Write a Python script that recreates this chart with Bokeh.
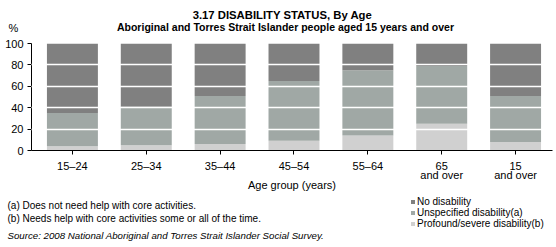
from bokeh.plotting import figure
from bokeh.models import Range1d, FixedTicker, Label, Legend, LegendItem, ColumnDataSource
from bokeh.layouts import column
from bokeh.embed import file_html
from bokeh.resources import INLINE

categories = ["15–24", "25–34", "35–44", "45–54", "55–64", "65\nand over", "15\nand over"]
profound = [4, 5, 6, 9, 14, 25, 8]
unspecified = [31, 36, 45, 56, 61, 54, 43]
no_disability = [65, 59, 49, 35, 25, 21, 49]
series_names = ["Profound/severe disability(b)", "Unspecified disability(a)", "No disability"]
colors = ["#d0d0d0", "#a0a8a5", "#808080"]
y_ticks = [0, 20, 40, 60, 80, 100]

FONT = "Liberation Sans"
W = 556


def blank(height):
    f = figure(width=W, height=height, output_backend="svg", toolbar_location=None,
               x_axis_type=None, y_axis_type=None, min_border=0, frame_align=False,
               x_range=Range1d(0, 1), y_range=Range1d(0, 1))
    f.outline_line_color = None
    f.xgrid.grid_line_color = None
    f.ygrid.grid_line_color = None
    return f


def lab(f, text, x, y, size="11px", style="normal", align="left"):
    f.add_layout(Label(x=x, y=y, x_units="screen", y_units="screen", text=text,
                       text_font=FONT, text_font_size=size, text_font_style=style,
                       text_align=align, text_baseline="middle", text_color="black"))


# ---- top: titles ----
top = blank(36)
lab(top, "3.17 DISABILITY STATUS, By Age", 282, 22, size="11.3px", style="bold", align="center")
lab(top, "Aboriginal and Torres Strait Islander people aged 15 years and over", 285, 10,
    size="10.5px", style="bold", align="center")
lab(top, "%", 13, 9, align="center")

# ---- main chart ----
xs = list(range(len(categories)))
data = dict(x=xs, profound=profound, unspecified=unspecified, nodis=no_disability)

p = figure(width=W, height=157, output_backend="svg", toolbar_location=None,
           x_range=Range1d(-0.554, 6.5), y_range=Range1d(0, 100), frame_align=False,
           min_border_left=31, min_border_right=4, min_border_top=7, min_border_bottom=43)
p.outline_line_color = None

p.vbar_stack(["profound", "unspecified", "nodis"], x="x", width=0.69, source=data,
             color=colors, line_color=None)

p.xaxis.ticker = FixedTicker(ticks=xs)
p.xaxis.major_label_overrides = {i: c for i, c in enumerate(categories)}
p.xaxis.major_tick_out = 4
p.xaxis.major_tick_in = 0
p.xaxis.minor_tick_line_color = None
p.xaxis.axis_line_color = "black"
p.xaxis.major_tick_line_color = "black"
p.xaxis.major_label_text_font = FONT
p.xaxis.major_label_text_font_size = "11px"
p.xaxis.major_label_text_color = "black"
p.xaxis.major_label_text_line_height = 0.75
p.xaxis.major_label_standoff = 5
p.xaxis.axis_label = "Age group (years)"
p.xaxis.axis_label_text_font = FONT
p.xaxis.axis_label_text_font_size = "11px"
p.xaxis.axis_label_text_font_style = "normal"
p.xaxis.axis_label_text_color = "black"
p.xaxis.axis_label_standoff = -5

p.yaxis.ticker = FixedTicker(ticks=y_ticks)
p.yaxis.major_tick_out = 4
p.yaxis.major_tick_in = 0
p.yaxis.minor_tick_line_color = None
p.yaxis.axis_line_color = "black"
p.yaxis.major_tick_line_color = "black"
p.yaxis.major_label_text_font = FONT
p.yaxis.major_label_text_font_size = "11px"
p.yaxis.major_label_text_color = "black"
p.yaxis.major_label_standoff = 4

p.xgrid.grid_line_color = None
p.ygrid.ticker = FixedTicker(ticks=[20, 40, 60, 80])
p.ygrid.grid_line_color = "white"
p.ygrid.grid_line_width = 1.5
p.ygrid.level = "overlay"

# ---- bottom: notes and legend ----
bot = blank(54)
lab(bot, "(a) Does not need help with core activities.", 7, 42, size="10px")
lab(bot, "(b) Needs help with core activities some or all of the time.", 7, 29, size="10px")
lab(bot, "Source: 2008 National Aboriginal and Torres Strait Islander Social Survey.", 7, 12,
    size="9.7px", style="italic")

swatches = [bot.vbar(x="x", top="top", width=1, color=c, line_color=None,
                     source=ColumnDataSource(dict(x=[float("nan")], top=[float("nan")])))
            for c in colors]
items = [LegendItem(label=series_names[i], renderers=[swatches[i]]) for i in (2, 1, 0)]
legend = Legend(items=items, location=(410, 18), glyph_width=5, glyph_height=5,
                label_standoff=2, spacing=0, label_height=11, padding=0, margin=0,
                label_text_font=FONT, label_text_font_size="10px",
                label_text_color="black", label_text_baseline="middle",
                border_line_color=None, background_fill_alpha=0)
bot.add_layout(legend, "center")

layout = column(top, p, bot, spacing=0)
open("out.html", "w").write(file_html(layout, INLINE))
